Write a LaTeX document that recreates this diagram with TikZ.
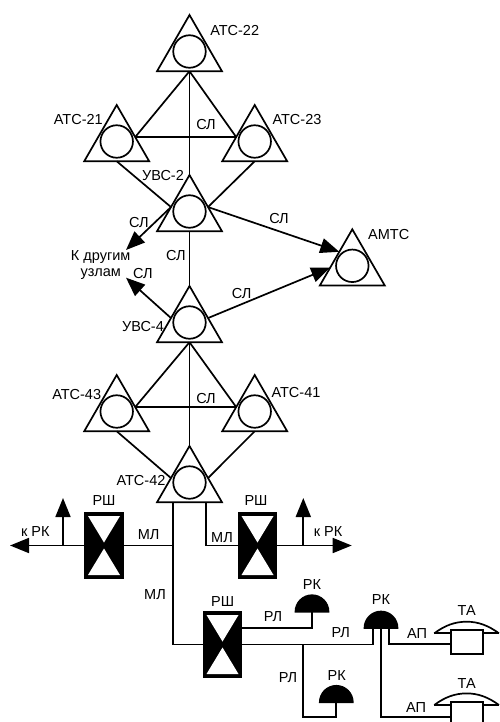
\documentclass[tikz,border=0pt]{standalone}
\usepackage{fontspec}
\setmainfont{Liberation Sans}
\usetikzlibrary{arrows.meta, positioning, calc, shapes.geometric}

\begin{document}
\begin{tikzpicture}[
  x=1pt, y=-1pt, line width=1.7pt,
  >={Triangle[length=19pt, width=15pt]},
  station/.style={draw, regular polygon, regular polygon sides=3, minimum size=75pt,
    inner sep=0pt, outer sep=0pt},
  ring/.style={draw, circle, minimum size=32.5pt, inner sep=0pt, outer sep=0pt},
  rshbox/.style={draw, fill=black, minimum width=38pt, minimum height=65pt,
    inner sep=0pt, outer sep=0pt,
    path picture={
      \fill[white] ([xshift=3pt,yshift=-3pt]path picture bounding box.north west)
        -- ([xshift=-3pt,yshift=-3pt]path picture bounding box.north east)
        -- ([yshift=3pt]path picture bounding box.center) -- cycle;
      \fill[white] ([xshift=3pt,yshift=3pt]path picture bounding box.south west)
        -- ([xshift=-3pt,yshift=3pt]path picture bounding box.south east)
        -- ([yshift=-3pt]path picture bounding box.center) -- cycle;
    }},
  dome/.style={draw, fill=black, semicircle, minimum width=33pt, minimum height=16.5pt,
    inner sep=0pt, outer sep=0pt, anchor=chord center},
  setbox/.style={draw, minimum width=32pt, minimum height=24pt, inner sep=0pt, outer sep=0pt},
  lbl/.style={font=\fontsize{14.5}{16}\selectfont, inner sep=0pt},
]
\useasboundingbox (0,0) rectangle (499,722);

% Stations
\foreach \nm/\px/\py in {atc22/189.5/52.5, atc21/116.7/142.5, atc23/254.7/142.5,
    uvs2/189.5/212.5, amts/352.3/266.8, uvs4/189.5/323.5,
    atc43/116.7/412.5, atc41/254.7/412.5, atc42/189.5/483.5} {
  \node[station] (\nm) at (\px,\py) {};
  \node[ring] (\nm-c) at ([yshift=1pt]\nm) {};
  \coordinate (\nm-l) at ($(\nm.corner 1)!0.57!(\nm.corner 2)$);
  \coordinate (\nm-r) at ($(\nm.corner 1)!0.57!(\nm.corner 3)$);
}

% Upper cluster
\draw (atc22.side 2) -- (uvs2.corner 1);
\draw (atc22.side 2) -- (atc21-r);
\draw (atc22.side 2) -- (atc23-l);
\draw (atc21-r) -- (atc23-l);
\draw (atc21.side 2) -- (uvs2-l);
\draw (atc23.side 2) -- (uvs2-r);
\draw (uvs2.side 2) -- (uvs4.corner 1);

% Lower cluster
\draw (uvs4.side 2) -- (atc42.corner 1);
\draw (uvs4.side 2) -- (atc43-r);
\draw (uvs4.side 2) -- (atc41-l);
\draw (atc43-r) -- (atc41-l);
\draw (atc43.side 2) -- (atc42-l);
\draw (atc41.side 2) -- (atc42-r);

% Arrows to AMTS and other nodes
\coordinate (amts-a) at ($(amts.corner 1)!0.4!(amts.corner 2)$);
\coordinate (amts-b) at ($(amts.corner 1)!0.68!(amts.corner 2)$);
\coordinate (other-a) at (126,250);
\coordinate (other-b) at (126,277.7);
\draw[->] (uvs2-r) -- (amts-a);
\draw[->] (uvs4-r) -- (amts-b);
\draw[->] (uvs2-l) -- (other-a);
\draw[->] (uvs4-l) -- (other-b);

% Distribution boxes
\node[rshbox] (rsh1) at (104,545.5) {};
\node[rshbox] (rsh2) at (257.5,545.5) {};
\node[rshbox] (rsh3) at (222.5,644.5) {};

% Lines out of ATC-42
\coordinate (mlleft) at ($(atc42.side 2)+(-16.2,0)$);
\coordinate (mlright) at ($(atc42.side 2)+(16.5,0)$);
\coordinate (jleft) at (173.3,545.5);
\draw (mlleft) |- (rsh3.west);
\draw (mlright) |- (rsh2.west);
\draw (rsh1.east) -- (jleft);

% To RK, left and right
\coordinate (krk1) at (10,545.5);
\coordinate (krk2) at (351.7,545.5);
\coordinate (up1) at (63,498);
\coordinate (up2) at (303.3,498);
\draw[->] (rsh1.west) -- (krk1);
\draw[->] (rsh2.east) -- (krk2);
\draw[->] (up1 |- krk1) -- (up1);
\draw[->] (up2 |- krk2) -- (up2);

% Cabinets
\node[dome] (rk1) at (312,611.7) {};
\node[dome] (rk2) at (381,628) {};
\node[dome] (rk3) at (336.3,702.3) {};

% Telephone sets
\node[setbox] (ta1) at (467.2,642) {};
\node[setbox] (ta2) at (467.2,714) {};
\foreach \tb/\yt in {ta1/633.3, ta2/705} {
  \draw (434.3,\yt) .. controls (445,\yt-8) and (455,\yt-11.6) .. (466.7,\yt-11.6)
    .. controls (478,\yt-11.6) and (488,\yt-8) .. (499,\yt);
  \draw (434.3,\yt) -- (\tb.west |- 0,\yt);
  \draw (\tb.east |- 0,\yt) -- (499,\yt);
}

% Subscriber lines
\coordinate (leg1) at ($(rk2.chord center)+(-7.7,0)$);
\coordinate (leg2) at ($(rk2.chord center)+(0,0)$);
\coordinate (leg3) at ($(rk2.chord center)+(8.3,0)$);
\coordinate (rl1) at (241.5,627.7);
\coordinate (rl2) at (303.3,644.5);
\coordinate (rl3) at (303.3,717);
\draw (rl1) -| (rk1.chord center);
\draw (rsh3.east) -| (leg1);
\draw (rl2) -- (rl3) -| (rk3.chord center);
\draw (leg3) |- (ta1.west |- 0,644);
\draw (leg2) |- (ta2.west |- 0,717);

% Labels
\node[lbl] (lb22) at (234.7,31) {АТС-22};
\node[lbl] (lb21) at (78.3,120) {АТС-21};
\node[lbl] (lb23) at (297,120) {АТС-23};
\node[lbl] (lbsl1) at (206,125) {СЛ};
\node[lbl] (lbu2) at (163,176) {УВС-2};
\node[lbl] (lbsl2) at (139,223) {СЛ};
\node[lbl] (lbsl3) at (279,219) {СЛ};
\node[lbl] (lbsl4) at (176,256) {СЛ};
\node[lbl] (lbsl5) at (143,274) {СЛ};
\node[lbl] (lbsl6) at (241.7,294) {СЛ};
\node[lbl] (lbam) at (388.7,235) {АМТС};
\node[lbl] (lbdr) at (100.7,256.7) {К другим};
\node[lbl] (lbuz) at (100.8,274) {узлам};
\node[lbl] (lbu4) at (143,326.7) {УВС-4};
\node[lbl] (lb43) at (76.7,395) {АТС-43};
\node[lbl] (lb41) at (296,392.7) {АТС-41};
\node[lbl] (lbsl7) at (206,399) {СЛ};
\node[lbl] (lb42) at (141,480.7) {АТС-42};
\node[lbl] (lbr1) at (104,500.7) {РШ};
\node[lbl] (lbr2) at (256,500.7) {РШ};
\node[lbl] (lbr3) at (222.7,602) {РШ};
\node[lbl] (lbk1) at (35.3,532) {к РК};
\node[lbl] (lbk2) at (328,532) {к РК};
\node[lbl] (lbml1) at (148.7,535) {МЛ};
\node[lbl] (lbml2) at (222,538) {МЛ};
\node[lbl] (lbml3) at (155,595) {МЛ};
\node[lbl] (lbrl1) at (273,617) {РЛ};
\node[lbl] (lbrl2) at (340.7,633) {РЛ};
\node[lbl] (lbrl3) at (288,677.7) {РЛ};
\node[lbl] (lbrk1) at (312,585) {РК};
\node[lbl] (lbrk2) at (381,600) {РК};
\node[lbl] (lbrk3) at (336.7,676) {РК};
\node[lbl] (lbap1) at (417,634) {АП};
\node[lbl] (lbap2) at (416,707.7) {АП};
\node[lbl] (lbta1) at (466.7,610.7) {ТА};
\node[lbl] (lbta2) at (466.7,684) {ТА};

\end{tikzpicture}
\end{document}
